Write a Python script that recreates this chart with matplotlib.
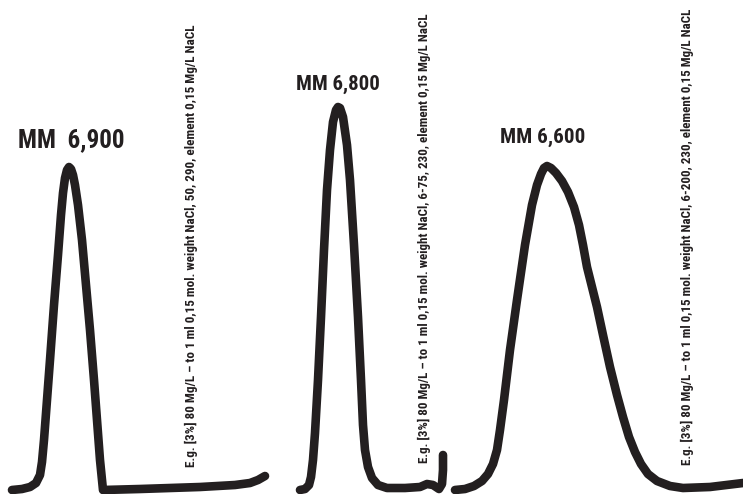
import matplotlib
matplotlib.use('Agg')
import matplotlib.pyplot as plt

# traces (x position, y position from top)
trace1_x = [12, 22, 30, 36, 40, 42, 44, 47, 50, 54, 58, 61, 63, 65, 67, 69, 71, 73, 75, 78, 82, 86, 90, 94, 97, 100, 102,
            103, 140, 200, 235, 250, 258, 265]
trace1_y = [490, 489, 487, 483, 475, 462, 440, 400, 360, 305, 255, 215, 193, 178, 170, 167, 169, 175, 185, 205, 240, 285, 330, 380, 420, 460, 480,
            490, 489, 487, 485, 483, 480, 476]

trace2_x = [300, 305, 309, 311, 313, 315, 318, 321, 324, 327, 330, 333, 336, 338, 340, 343, 347, 350, 354, 358, 361, 363, 365, 368, 372, 378, 387,
            405, 420, 427, 433, 439, 442, 443, 443]
trace2_y = [490, 489, 485, 477, 460, 433, 380, 317, 250, 190, 150, 122, 110, 107, 108, 117, 145, 180, 245, 317, 380, 425, 450, 467, 478, 485, 488,
            488, 487, 484, 485, 489, 484, 470, 455]

trace3_x = [455, 465, 474, 482, 488, 493, 497, 500, 504, 510, 517, 525, 532, 537, 541, 544, 547, 551, 556, 562, 568, 574, 579, 583, 587, 592,
            597, 603, 610, 617, 623, 629, 635, 641, 648, 657, 670, 683, 710, 743]
trace3_y = [490, 489, 486, 481, 474, 464, 450, 430, 400, 350, 300, 245, 205, 185, 174, 168, 166, 168, 173, 181, 192, 207, 225, 245, 267, 287,
            307, 335, 367, 395, 417, 437, 452, 464, 474, 481, 486, 488, 487, 483]

peak_labels = ['MM  6,900', 'MM 6,800', 'MM 6,600']
peak_label_x = [18, 296, 500]
peak_label_y = [147, 90, 143]
label_w = [107, 84, 85]

notes = [
    'E.g. [3%] 80 Mg/L \u2013 to 1 ml 0,15 mol. weight NaCl, 50, 290, element 0,15 Mg/L NaCL',
    'E.g. [3%] 80 Mg/L \u2013 to 1 ml 0,15 mol. weight NaCl, 6-75, 230, element 0,15 Mg/L NaCL',
    'E.g. [3%] 80 Mg/L \u2013 to 1 ml 0,15 mol. weight NaCl, 6-200, 230, element 0,15 Mg/L NaCL',
]
note_x = [191, 424, 687]
note_bottom = [467, 463, 465]
note_top = [27, 15, 10]

ink = '#231f20'
narrow = ['Roboto Condensed', 'Liberation Sans Narrow', 'DejaVu Sans Condensed', 'Open Sans Condensed', 'DejaVu Sans']

fig = plt.figure(figsize=(7.43, 4.94), dpi=100)
ax = fig.add_axes([0, 0, 1, 1])
ax.set_xlim(0, 743)
ax.set_ylim(494, 0)
ax.axis('off')

for xs, ys in [(trace1_x, trace1_y), (trace2_x, trace2_y), (trace3_x, trace3_y)]:
    ax.plot(xs, ys, color=ink, lw=6.2, solid_capstyle='round', solid_joinstyle='round')

fig.canvas.draw()
renderer = fig.canvas.get_renderer()

for lab, x, y, w in zip(peak_labels, peak_label_x, peak_label_y, label_w):
    t = ax.text(x, y, lab, fontsize=16, family=narrow, stretch='condensed', weight='heavy',
                color=ink, ha='left', va='baseline')
    bb = t.get_window_extent(renderer)
    t.set_fontsize(16 * w / bb.width)

for s, x, b, top in zip(notes, note_x, note_bottom, note_top):
    t = ax.text(x, b, s, rotation=90, fontsize=8, family=narrow, stretch='condensed', weight='heavy',
                color=ink, ha='center', va='bottom')
    bb = t.get_window_extent(renderer)
    t.set_fontsize(8 * (b - top) / bb.height)

fig.savefig('out.png', dpi=100)
